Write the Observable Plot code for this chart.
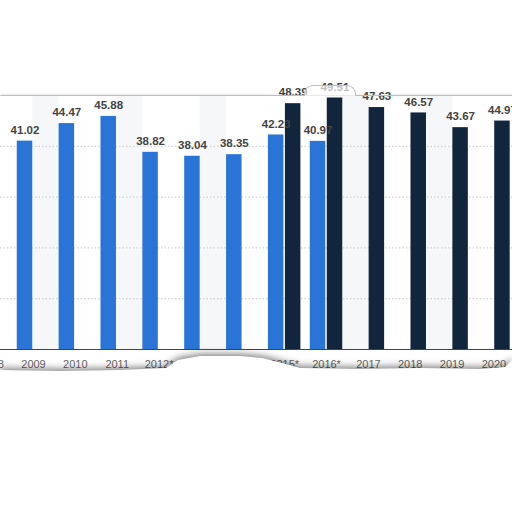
<!DOCTYPE html>
<html>
<head>
<meta charset="utf-8">
<script src="https://cdn.jsdelivr.net/npm/d3@7"></script>
<script src="https://cdn.jsdelivr.net/npm/@observablehq/plot@0.6"></script>
<style>
  html, body { margin: 0; padding: 0; background: #fff; }
  #wrap { position: relative; width: 512px; height: 512px; overflow: hidden; background: #fff; }
  #wrap svg { position: absolute; left: 0; top: 0; overflow: visible; }
  #wrap svg text.val { letter-spacing: 0.4px; }
  #wrap svg text.tick { letter-spacing: 0.5px; }
  #topLine { position: absolute; left: 0; top: 95px; width: 512px; height: 0; border-top: 1.2px solid #bdbdbd; box-shadow: 0 -1px 2px rgba(0,0,0,0.10); border-top-left-radius: 6px; }
  #bump { position: absolute; left: 304px; top: 85px; width: 50px; height: 10px; border: 1.2px solid #bdbdbd; border-bottom: none; border-radius: 9px 9px 0 0; background: rgba(255,255,255,0.68); }
  #tearShadow { position: absolute; left: 0; top: 0; width: 512px; height: 512px; filter: drop-shadow(0 -2px 3.5px rgba(0,0,0,0.5)); pointer-events: none; }
  #tear { position: absolute; left: 0; top: 0; width: 512px; height: 512px; background: #fff;
    clip-path: polygon(0px 370px, 60px 371px, 120px 370px, 166px 368px, 178px 360px, 200px 356px, 240px 356px, 262px 358px, 278px 362px, 300px 368px, 360px 369px, 420px 368px, 480px 369px, 505px 367px, 512px 360px, 512px 512px, 0px 512px); }
</style>
</head>
<body>
<div id="wrap"></div>
<script>
const categories = ["2008","2009","2010","2011","2012*","2013*","2014*","2015*","2016*","2017","2018","2019","2020"];
const blueYears = ["2009","2010","2011","2012*","2013*","2014*","2015*","2016*"];
const blueValues = [41.02, 44.47, 45.88, 38.82, 38.04, 38.35, 42.23, 40.97];
const darkYears = ["2015*","2016*","2017","2018","2019","2020"];
const darkValues = [48.39, 49.51, 47.63, 46.57, 43.67, 44.97];
const gridValues = [10, 20, 30, 40];
const shadedGapAfter = ["2009","2011","2013*","2016*","2018"];

const BLUE = "#2a74d8";
const DARK = "#11263d";
const idx = y => categories.indexOf(y);
const blueData = blueYears.map((year, k) => ({year, value: blueValues[k], i: idx(year)}));
const darkData = darkYears.map((year, k) => ({year, value: darkValues[k], i: idx(year)}));

// bar slots inside each category (in category units)
const slotOff = 0.203, half = 0.185;
const blueSet = new Set(blueYears), darkSet = new Set(darkYears);
const rightEdge = i => darkSet.has(categories[i]) ? i + slotOff + half : i - slotOff + half;
const leftEdge = i => blueSet.has(categories[i]) ? i - slotOff - half : i + slotOff - half;
const bands = shadedGapAfter.map(y => { const i = idx(y); return {x1: rightEdge(i), x2: leftEdge(i + 1)}; });

const tickData = categories.map((c, i) => ({c, i}));

const chart = Plot.plot({
  width: 512,
  height: 512,
  marginLeft: 0,
  marginRight: 0,
  marginTop: 95,
  marginBottom: 163,
  style: {fontFamily: "'Liberation Sans', Arial, sans-serif", background: "transparent"},
  x: {type: "linear", domain: [0.2117, 12.443], axis: null},
  y: {domain: [0, 50], axis: null},
  marks: [
    Plot.rect(bands, {x1: "x1", x2: "x2", y1: 0, y2: 50, fill: "#f6f7f8"}),
    Plot.ruleY(gridValues, {stroke: "#c8c8c8", strokeDasharray: "1.5,2", strokeWidth: 1}),
    Plot.rect(blueData, {x1: d => d.i - slotOff - half, x2: d => d.i - slotOff + half, y1: 0, y2: "value", fill: BLUE}),
    Plot.rect(darkData, {x1: d => d.i + slotOff - half, x2: d => d.i + slotOff + half, y1: 0, y2: "value", fill: DARK}),
    Plot.ruleY([0], {stroke: "#444", strokeWidth: 1}),
    Plot.text(blueData, {x: d => d.i - slotOff, y: "value", text: d => d.value.toFixed(2), dy: -11, fontWeight: "bold", fontSize: 11.5, fill: "#444", className: "val"}),
    Plot.text(darkData, {x: d => d.i + slotOff, y: "value", text: d => d.value.toFixed(2), dy: -11, fontWeight: "bold", fontSize: 11.5, fill: "#444", className: "val"}),
    Plot.text(tickData, {x: "i", y: 0, text: "c", dy: 15, fontSize: 11, fill: "#666", className: "tick"})
  ]
});
const wrap = document.getElementById("wrap");
wrap.appendChild(chart);
const topLine = document.createElement("div"); topLine.id = "topLine"; wrap.appendChild(topLine);
const bump = document.createElement("div"); bump.id = "bump"; wrap.appendChild(bump);
const shadow = document.createElement("div"); shadow.id = "tearShadow";
const tear = document.createElement("div"); tear.id = "tear";
shadow.appendChild(tear); wrap.appendChild(shadow);
</script>
</body>
</html>
